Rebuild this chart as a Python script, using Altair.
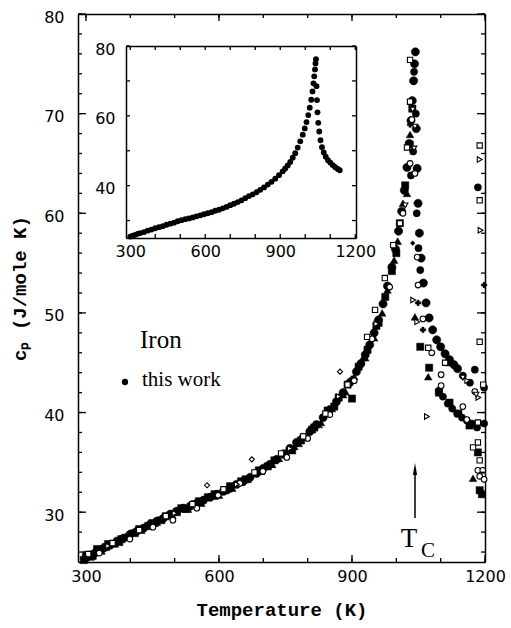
import altair as alt
import pandas as pd

# ---------------- data ----------------
# "this work" : filled circles
work_T = [300, 310, 320, 330, 340, 355, 370, 385, 400, 415, 430, 445, 460, 475, 490,
          505, 520, 535, 550, 565, 580, 595, 610, 625, 640, 655, 670, 685, 700, 715,
          730, 745, 760, 775, 790, 805, 820, 835, 850, 865, 880, 895, 910, 920, 930,
          940, 950, 960, 970, 980, 990, 998, 1005, 1012, 1018, 1024, 1029, 1033, 1036,
          1039, 1041, 1043, 1045, 1047, 1049, 1052, 1056, 1061, 1067, 1074, 1082, 1091,
          1100, 1110, 1120, 1130, 1138]
work_cp = [25.4, 25.7, 25.9, 26.2, 26.4, 26.7, 27.1, 27.4, 27.8, 28.1, 28.4, 28.8, 29.1, 29.4, 29.8,
           30.1, 30.4, 30.6, 30.9, 31.2, 31.5, 31.8, 32.1, 32.4, 32.8, 33.1, 33.5, 33.9, 34.4, 34.8,
           35.3, 35.8, 36.4, 37.0, 37.5, 38.1, 38.8, 39.5, 40.3, 41.1, 42.0, 43.0, 44.1, 44.9, 45.8,
           46.8, 48.0, 49.3, 50.9, 52.7, 54.6, 56.4, 58.2, 60.2, 62.3, 64.6, 67.0, 69.3, 71.3,
           73.3, 75.0, 76.2, 68.5, 64.5, 61.0, 58.0, 55.5, 53.0, 51.0, 49.5, 48.3, 47.3,
           46.6, 45.9, 45.3, 44.8, 44.4]

# literature data, filled circles
lit_dot_T = [1096, 1105, 1116, 1126, 1137, 1148, 1159, 1170, 1182, 1198, 1177, 1198, 1184, 1150, 1166,
             1040, 1044, 1038, 1046, 1033, 1050, 1054]
lit_dot_cp = [42.2, 41.6, 40.9, 40.4, 39.9, 39.5, 39.2, 38.9, 38.5, 38.9, 44.3, 42.5, 62.6, 43.7, 43.0,
              74.2, 70.0, 66.2, 60.0, 63.8, 56.5, 54.3]

# filled squares
fsq_T = [295, 315, 345, 375, 410, 440, 470, 505, 545, 575, 615, 660, 710, 765, 815, 860, 900,
         960, 1000, 1054, 1074, 1096, 1120, 1140, 1165, 1184, 1188, 1193,
         300, 325, 350, 380, 420, 450, 480, 515, 555, 590, 625, 650, 690, 725, 750, 785, 810,
         845, 870, 890, 915, 935, 955, 975, 990, 1008, 1020, 1030, 1036]
fsq_cp = [25.2, 25.6, 26.5, 27.0, 27.9, 28.6, 29.2, 30.0, 30.8, 31.5, 32.2, 33.3, 34.6, 36.2, 38.5, 40.6, 41.4,
          49.0, 56.0, 46.6, 44.5, 42.0, 41.0, 39.9, 38.7, 36.0, 32.2, 31.8,
          25.7, 26.3, 26.8, 27.3, 28.3, 28.9, 29.6, 30.4, 31.1, 31.8, 32.6, 33.1, 34.2, 35.2, 35.9, 37.2, 38.3,
          40.2, 41.5, 42.8, 44.6, 46.3, 48.7, 51.6, 54.2, 59.0, 62.8, 66.9, 70.5]

# filled triangles
ftri_T = [325, 390, 455, 525, 590, 650, 720, 780, 830, 880, 925, 968, 1003, 1024, 1031, 1042, 1072, 1120, 1177, 1173,
          310, 335, 365, 395, 425, 460, 495, 530, 560, 600, 630, 665, 695, 735, 770, 795, 825, 855, 885,
          905, 930, 950, 980, 995, 1015]
ftri_cp = [26.1, 27.6, 28.9, 30.3, 31.6, 33.0, 34.8, 36.9, 39.0, 41.8, 45.5, 50.0, 57.2, 62.0, 67.9, 49.6, 43.6, 45.0, 38.9, 33.4,
           25.5, 26.1, 26.8, 27.5, 28.2, 29.0, 29.7, 30.3, 30.9, 31.7, 32.4, 33.3, 34.1, 35.4, 36.6, 37.6, 38.8, 40.4, 42.1,
           43.6, 45.5, 47.5, 52.3, 55.3, 61.0]

# plus signs
plus_T = [1031, 1049, 1060, 1198, 900]
plus_cp = [68.9, 51.0, 48.3, 52.8, 43.4]

# small filled diamonds
fdia_T = [1035, 1037]
fdia_cp = [73.2, 57.0]

# open circles
ocir_T = [330, 399, 451, 496, 550, 598, 647, 699, 753, 800, 850, 905, 945, 985, 1015, 1031, 1035, 1042,
          1047, 1049, 1060, 1080, 1101, 1101, 1150, 1159, 1177, 1184, 1188, 1195, 1198]
ocir_cp = [25.9, 27.3, 28.5, 29.2, 30.4, 31.7, 32.9, 34.1, 35.5, 37.4, 39.8, 43.2, 47.4, 52.6, 60.0, 65.0, 69.4, 64.0,
           55.6, 52.8, 49.4, 46.0, 43.8, 42.7, 40.6, 39.3, 42.1, 34.2, 33.6, 34.2, 33.3]

# open squares
osq_T = [305, 360, 420, 480, 540, 610, 680, 740, 790, 840, 890, 934, 952, 974, 993, 1008, 1024, 1031, 1031,
         1072, 1110, 1173, 1184, 1184, 1188, 1188, 1188, 1188, 1196]
osq_cp = [25.8, 26.9, 28.2, 29.6, 30.8, 32.3, 34.0, 35.9, 37.6, 39.9, 42.8, 47.6, 50.3, 53.5, 56.8, 59.0, 66.6, 71.2, 75.4,
          46.5, 45.0, 36.5, 39.0, 37.0, 35.2, 47.1, 61.3, 66.8, 42.8]

# open right-pointing triangles
otr_T = [350, 500, 640, 760, 870, 955, 1038, 1047, 1069, 1160, 1188, 1190, 1185]
otr_cp = [26.6, 29.9, 32.8, 36.4, 41.6, 48.9, 51.3, 49.1, 39.6, 43.2, 65.4, 58.3, 41.5]

# open down-pointing triangles
otd_T = [1037, 1042, 1040, 1020, 1150, 1180]
otd_cp = [70.4, 68.7, 66.5, 60.8, 43.5, 41.8]

# open diamonds
odia_T = [573, 674, 873]
odia_cp = [32.7, 35.3, 44.1]

# axis ticks / labels
main_x_ticks = [300, 400, 500, 600, 700, 800, 900, 1000, 1100, 1200]
main_y_ticks = [26, 28, 30, 32, 34, 36, 38, 40, 42, 44, 46, 48, 50, 52, 54, 56, 58, 60,
                62, 64, 66, 68, 70, 72, 74, 76, 78, 80]
main_x_labels = [300, 600, 900, 1200]
main_y_labels = [30, 40, 50, 60, 70, 80]
inset_x_ticks = [300, 400, 500, 600, 700, 800, 900, 1000, 1100, 1200]
inset_y_ticks = [30, 40, 50, 60, 70, 80]
inset_x_labels = [300, 600, 900, 1200]
inset_y_labels = [40, 60, 80]

title_x = "Temperature (K)"
title_y = "c\u209a (J/mole K)"
label_iron = "Iron"
label_work = "this work"

# ---------------- chart ----------------
W, H = 407, 548
X_DOM = [282, 1200]
Y_DOM = [25, 80]
IX_RANGE = [48, 278]      # inset position inside the main plot area (view pixels)
IY_RANGE = [224, 32]
IX_DOM = [283, 1203]

MX = alt.Scale(domain=X_DOM, nice=False, zero=False)
MY = alt.Scale(domain=Y_DOM, nice=False, zero=False)
IXS = alt.Scale(domain=IX_DOM, range=IX_RANGE, nice=False, zero=False)
IYS = alt.Scale(domain=Y_DOM, range=IY_RANGE, nice=False, zero=False)


def df(T, cp):
    return pd.DataFrame({"T": T, "cp": cp})


def vals(v):
    return pd.DataFrame({"v": v})


work_df = df(work_T, work_cp)

LBL = dict(labelFont="DejaVu Sans", labelFontSize=16, labelColor="black",
           domainColor="black", domainWidth=1.5, ticks=False,
           grid=False, labelFlush=False, labelOverlap=False, format="d")

main_x = alt.X("T:Q", scale=MX,
               axis=alt.Axis(orient="bottom", values=main_x_labels,
                             labelPadding=6, title=title_x, titleFont="Liberation Mono",
                             titleFontSize=19, titleFontWeight="bold", titleColor="black",
                             titlePadding=16, **LBL))
main_y = alt.Y("cp:Q", scale=MY,
               axis=alt.Axis(orient="left", values=main_y_labels,
                             labelPadding=14, labelOffset=3, title=title_y,
                             titleFont="Liberation Mono", titleFontSize=19, titleFontWeight="bold",
                             titleColor="black", titlePadding=14, **LBL))


def pts(T, cp, shape, filled, size, sw=1.1):
    if filled:
        m = alt.Chart(df(T, cp)).mark_point(shape=shape, filled=True, fill="black", stroke="black",
                                            strokeWidth=0.5, size=size, opacity=1)
    else:
        m = alt.Chart(df(T, cp)).mark_point(shape=shape, filled=True, fill="white", stroke="black",
                                            strokeWidth=sw, size=size, opacity=1, fillOpacity=1)
    return m.encode(x=main_x, y=main_y)


def xticks(v, scale, y0, y1):
    """Inward tick marks placed through the x scale (own independent scale in the outer layer)."""
    return alt.Chart(vals(v)).mark_rule(color="black", strokeWidth=1.3).encode(
        x=alt.X("v:Q", scale=scale, axis=None), y=alt.value(y0), y2=alt.value(y1))


def yticks(v, scale, x0, x1):
    return alt.Chart(vals(v)).mark_rule(color="black", strokeWidth=1.3).encode(
        y=alt.Y("v:Q", scale=scale, axis=None), x=alt.value(x0), x2=alt.value(x1))


one = pd.DataFrame({"a": [0]})

iron_txt = alt.Chart(one).mark_text(text=label_iron, font="Liberation Serif", fontSize=25,
                                    align="left", baseline="middle", color="black").encode(
    x=alt.value(62), y=alt.value(326))
work_txt = alt.Chart(one).mark_text(text=label_work, font="Liberation Serif", fontSize=21,
                                    align="left", baseline="middle", color="black").encode(
    x=alt.value(64), y=alt.value(366))
bullet = alt.Chart(one).mark_point(shape="circle", filled=True, color="black", size=40, opacity=1).encode(
    x=alt.value(47), y=alt.value(368))
arrow_line = alt.Chart(one).mark_rule(color="black", strokeWidth=1.5).encode(
    x=alt.value(337), y=alt.value(455), y2=alt.value(504))
arrow_head = alt.Chart(one).mark_point(shape="M0,-1L0.35,1L-0.35,1Z", filled=True, color="black",
                                       size=144, opacity=1).encode(x=alt.value(337), y=alt.value(455))
tc_T = alt.Chart(one).mark_text(text="T", font="Liberation Serif", fontSize=27, align="center",
                                baseline="alphabetic", color="black").encode(x=alt.value(331), y=alt.value(533))
tc_C = alt.Chart(one).mark_text(text="C", font="Liberation Serif", fontSize=21, align="center",
                                baseline="alphabetic", color="black").encode(x=alt.value(350), y=alt.value(543))

main_layer = alt.layer(
    pts(work_T, work_cp, "circle", True, 68),
    pts(lit_dot_T, lit_dot_cp, "circle", True, 52),
    pts(fsq_T, fsq_cp, "square", True, 52),
    pts(ftri_T, ftri_cp, "triangle-up", True, 58),
    pts(plus_T, plus_cp, "cross", True, 30),
    pts(fdia_T, fdia_cp, "diamond", True, 22),
    pts(ocir_T, ocir_cp, "circle", False, 32),
    pts(osq_T, osq_cp, "square", False, 28),
    pts(otr_T, otr_cp, "triangle-right", False, 30),
    pts(otd_T, otd_cp, "triangle-down", False, 30),
    pts(odia_T, odia_cp, "diamond", False, 26),
    iron_txt, work_txt, bullet, arrow_line, arrow_head, tc_T, tc_C,
)

FRAME = dict(labels=False, ticks=False, domainColor="black", domainWidth=1.5, grid=False, title="")

main_frame = alt.Chart(work_df).mark_point(opacity=0).encode(
    x=alt.X("T:Q", scale=MX, axis=alt.Axis(orient="top", **FRAME)),
    y=alt.Y("cp:Q", scale=MY, axis=alt.Axis(orient="right", **FRAME)),
)

inset_pts = alt.Chart(work_df).mark_circle(size=34, color="black", opacity=1).encode(
    x=alt.X("T:Q", scale=IXS,
            axis=alt.Axis(orient="bottom", offset=-(H - IY_RANGE[0]), values=inset_x_labels,
                          labelPadding=5, title="", **LBL)),
    y=alt.Y("cp:Q", scale=IYS,
            axis=alt.Axis(orient="left", offset=-IX_RANGE[0], values=inset_y_labels,
                          labelPadding=11, labelOffset=3, title="", **LBL)),
)

inset_frame = alt.Chart(work_df).mark_point(opacity=0).encode(
    x=alt.X("T:Q", scale=IXS, axis=alt.Axis(orient="top", offset=-IY_RANGE[1], **FRAME)),
    y=alt.Y("cp:Q", scale=IYS, axis=alt.Axis(orient="right", offset=IX_RANGE[1] - W, **FRAME)),
)

tick_marks = [
    # main frame, inward ticks
    xticks(main_x_ticks, MX, H, H - 4), xticks(main_x_labels, MX, H, H - 7),
    xticks(main_x_ticks, MX, 0, 4), xticks(main_x_labels, MX, 0, 7),
    yticks(main_y_ticks, MY, 0, 4), yticks(main_y_labels, MY, 0, 8),
    yticks(main_y_ticks, MY, W, W - 4), yticks(main_y_labels, MY, W, W - 8),
    # inset frame, inward ticks
    xticks(inset_x_ticks, IXS, IY_RANGE[0], IY_RANGE[0] - 4),
    xticks(inset_x_ticks, IXS, IY_RANGE[1], IY_RANGE[1] + 4),
    yticks(inset_y_ticks, IYS, IX_RANGE[0], IX_RANGE[0] + 4),
    yticks(inset_y_ticks, IYS, IX_RANGE[1], IX_RANGE[1] - 4),
]

chart = alt.layer(main_layer, main_frame, inset_pts, inset_frame, *tick_marks).resolve_scale(
    x="independent", y="independent"
).properties(
    width=W, height=H,
    autosize=alt.AutoSizeParams(type="none"),
    padding={"left": 78, "top": 14, "right": 26, "bottom": 66},
    background="white",
).configure_view(stroke=None)

chart.save("out.html", embed_options={"renderer": "svg", "actions": False})
